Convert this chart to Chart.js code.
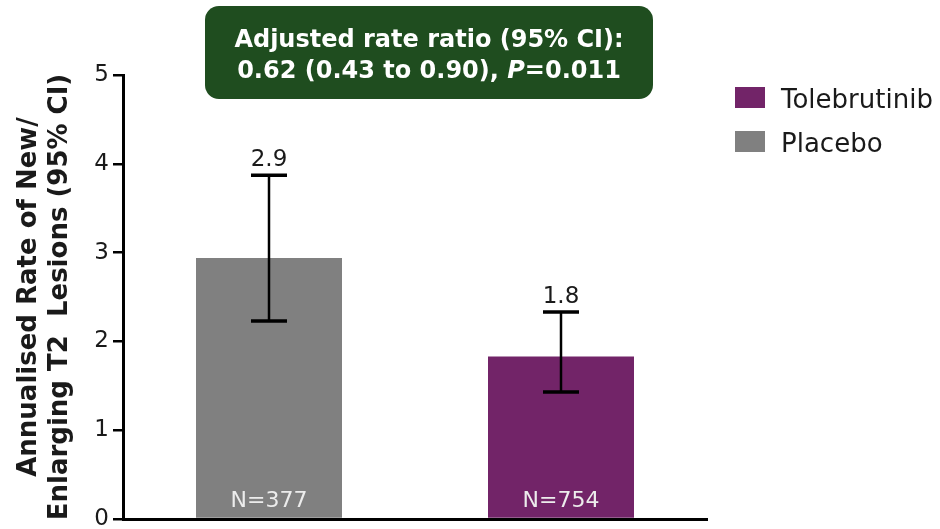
<!DOCTYPE html>
<html>
<head>
<meta charset="utf-8">
<script src="https://cdn.jsdelivr.net/npm/chart.js@4"></script>
<style>
  html, body { margin: 0; padding: 0; background: #ffffff; }
  #wrap { width: 940px; height: 529px; position: relative; }
</style>
</head>
<body>
<div id="wrap"><canvas id="chart" width="940" height="529"></canvas></div>
<script>
// Treatment arms, annualised lesion rates and 95% confidence limits
const categories = ['Placebo', 'Tolebrutinib'];
const rates = [2.94, 1.83];
const ciLower = [2.23, 1.43];
const ciUpper = [3.87, 2.33];
const sampleSizes = ['N=377', 'N=754'];
const barColors = ['#808080', '#722468'];
const legendItems = ['Tolebrutinib', 'Placebo'];
const legendColors = ['#722468', '#808080'];
const yTicks = [0, 1, 2, 3, 4, 5];
const titleLines = ['Annualised Rate of New/', 'Enlarging T2  Lesions (95% CI)'];
const boxLine1 = 'Adjusted rate ratio (95% CI):';
const boxLine2 = ['0.62 (0.43 to 0.90), ', 'P', '=0.011'];

const FONT = '"DejaVu Sans", Verdana, sans-serif';

// Error bars, value labels, sample sizes, legend and the rate-ratio box
const annotations = {
  id: 'annotations',
  afterDatasetsDraw(chart) {
    const ctx = chart.ctx;
    const y = chart.scales.y;
    const meta = chart.getDatasetMeta(0);
    meta.data.forEach((bar, i) => {
      const x = bar.x;
      const yHi = y.getPixelForValue(ciUpper[i]);
      const yLo = y.getPixelForValue(ciLower[i]);
      ctx.save();
      ctx.strokeStyle = '#000000';
      ctx.lineWidth = 2.5;
      ctx.beginPath();
      ctx.moveTo(x, yHi);
      ctx.lineTo(x, yLo);
      ctx.stroke();
      ctx.lineWidth = 3.5;
      ctx.beginPath();
      ctx.moveTo(x - 18, yHi);
      ctx.lineTo(x + 18, yHi);
      ctx.moveTo(x - 18, yLo);
      ctx.lineTo(x + 18, yLo);
      ctx.stroke();

      // value above the upper limit
      ctx.fillStyle = '#1a1a1a';
      ctx.font = '23px ' + FONT;
      ctx.textAlign = 'center';
      ctx.textBaseline = 'alphabetic';
      ctx.fillText(rates[i].toFixed(1), x, yHi - 9);

      // sample size inside the bar foot
      ctx.fillStyle = '#ececec';
      ctx.font = '22px ' + FONT;
      ctx.textBaseline = 'middle';
      ctx.fillText(sampleSizes[i], x, y.getPixelForValue(0) - 18);
      ctx.restore();
    });
  },
  afterDraw(chart) {
    const ctx = chart.ctx;
    ctx.save();
    // legend
    legendItems.forEach((label, i) => {
      const top = 87 + i * 44;
      ctx.fillStyle = legendColors[i];
      ctx.fillRect(735, top, 30, 21);
      ctx.fillStyle = '#1a1a1a';
      ctx.font = '26px ' + FONT;
      ctx.textAlign = 'left';
      ctx.textBaseline = 'alphabetic';
      ctx.fillText(label, 781, top + 21);
    });

    // rate ratio box
    ctx.fillStyle = '#1f4d1f';
    ctx.beginPath();
    ctx.roundRect(205, 6, 448, 93, 14);
    ctx.fill();
    ctx.fillStyle = '#ffffff';
    ctx.textBaseline = 'middle';
    ctx.textAlign = 'center';
    const normal = 'bold 24px ' + FONT;
    const italic = 'italic bold 24px ' + FONT;
    ctx.font = normal;
    const cx = 429;
    ctx.fillText(boxLine1, cx, 41);
    ctx.font = normal; const w0 = ctx.measureText(boxLine2[0]).width;
    ctx.font = italic; const w1 = ctx.measureText(boxLine2[1]).width;
    ctx.font = normal; const w2 = ctx.measureText(boxLine2[2]).width;
    let x = cx - (w0 + w1 + w2) / 2;
    ctx.textAlign = 'left';
    ctx.font = normal; ctx.fillText(boxLine2[0], x, 72); x += w0;
    ctx.font = italic; ctx.fillText(boxLine2[1], x, 72); x += w1;
    ctx.font = normal; ctx.fillText(boxLine2[2], x, 72);
    ctx.restore();
  }
};

new Chart(document.getElementById('chart'), {
  type: 'bar',
  data: {
    labels: categories,
    datasets: [{
      data: rates,
      backgroundColor: barColors,
      borderWidth: 0,
      categoryPercentage: 1.0,
      barPercentage: 0.5
    }]
  },
  options: {
    responsive: false,
    animation: false,
    events: [],
    layout: { padding: { top: 75, right: 233, left: 0, bottom: 0 } },
    plugins: {
      legend: { display: false },
      tooltip: { enabled: false },
      title: { display: false }
    },
    scales: {
      x: {
        offset: true,
        grid: { display: false, drawTicks: false },
        border: { display: true, color: '#000000', width: 3 },
        ticks: { display: false },
        afterFit(scale) { scale.height = 10; }
      },
      y: {
        min: 0,
        max: 5,
        afterBuildTicks(scale) { scale.ticks = yTicks.map(v => ({ value: v })); },
        grid: { drawOnChartArea: false, drawTicks: true, tickLength: 10, color: '#000000', lineWidth: 2.5 },
        border: { display: true, color: '#000000', width: 3 },
        ticks: {
          color: '#1a1a1a',
          padding: 4,
          font: { family: FONT, size: 23 }
        },
        title: {
          display: true,
          text: titleLines,
          color: '#1a1a1a',
          font: { family: FONT, size: 26, weight: 'bold', lineHeight: 1.22 },
          padding: { top: 13, bottom: 0 }
        },
        afterFit(scale) {
          scale.width = 123;
          scale.paddingTop = 0;
          scale.paddingBottom = 0;
        }
      }
    }
  },
  plugins: [annotations]
});
</script>
</body>
</html>
